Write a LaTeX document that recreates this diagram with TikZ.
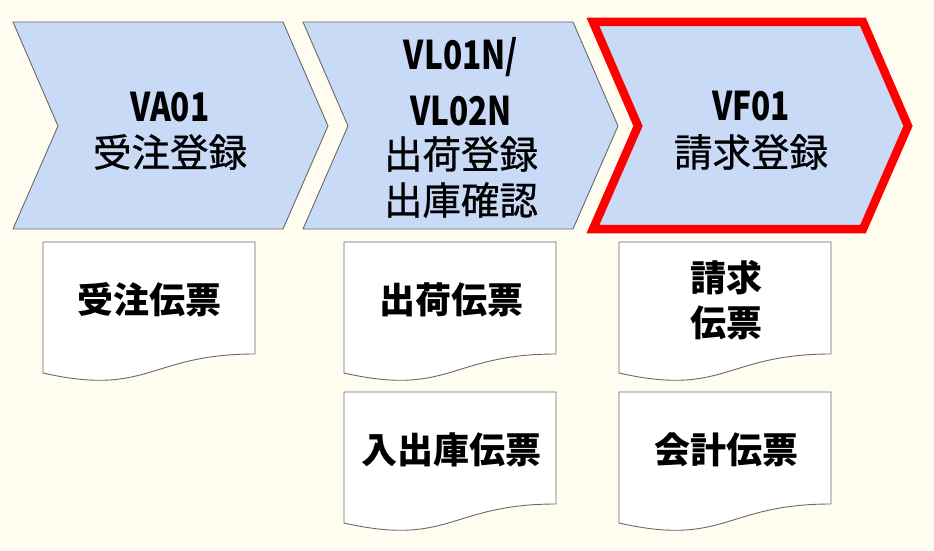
\documentclass[tikz,border=0pt]{standalone}
\usepackage{fontspec}
\setmainfont{Noto Sans CJK JP}
\newfontfamily\latfont[FakeStretch=0.8]{Noto Sans CJK JP}
\newfontfamily\jpchev[FakeBold=0.7]{Noto Sans CJK JP}
\definecolor{bgc}{RGB}{255,253,240}
\definecolor{chevfill}{RGB}{201,218,246}
\definecolor{edgegray}{RGB}{105,105,105}
\definecolor{hired}{RGB}{255,0,0}
\tikzset{
  chevbox/.style={fill=chevfill, draw=edgegray, line width=0.9pt, line join=miter},
  chevhi/.style={fill=chevfill, draw=hired, line width=8.5pt, line join=miter, miter limit=2},
  latline/.style={inner sep=0pt, font=\latfont\bfseries\fontsize{39.5}{40}\selectfont},
  jpline/.style={inner sep=0pt, font=\jpchev\fontsize{38.5}{40}\selectfont},
  docbox/.style={fill=white, draw=edgegray, line width=0.9pt},
  doctext/.style={inner sep=0pt, font=\bfseries\fontsize{36}{40}\selectfont}
}
\newcommand{\mydocshape}[2]{%
  \draw[docbox] (#1,#2) -- (#1+212,#2) -- (#1+212,#2+112)
    .. controls (#1+106,#2+112) and (#1+106,#2+155) .. (#1,#2+131) -- cycle;}
\begin{document}
\begin{tikzpicture}[x=1pt,y=-1pt]
\fill[bgc] (0,0) rectangle (934,551);
\path[use as bounding box] (0,0) rectangle (934,551);
% chevrons
\draw[chevbox] (13,22) -- (283,22) -- (328,126) -- (283,229) -- (13,229) -- (58,126) -- cycle;
\draw[chevbox] (303,22) -- (573,22) -- (618,126) -- (573,229) -- (303,229) -- (348,126) -- cycle;
\draw[chevhi] (593,22) -- (863,22) -- (908,126) -- (863,229) -- (593,229) -- (638,126) -- cycle;
% chevron texts
\node[latline] (c1a) at (170,107) {VA01};
\node[jpline]  (c1b) at (170,152) {受注登録};
\node[latline] (c2a) at (461,57) {VL01N/};
\node[latline] (c2b) at (461,111) {VL02N};
\node[jpline]  (c2c) at (461,154) {出荷登録};
\node[jpline]  (c2d) at (461,200) {出庫確認};
\node[latline] (c3a) at (751,106) {VF01};
\node[jpline]  (c3b) at (751,152) {請求登録};
% documents
\mydocshape{43}{242}
\mydocshape{344}{242}
\mydocshape{619}{242}
\mydocshape{344}{392}
\mydocshape{619}{392}
\node[doctext] (d1) at (149,300) {受注伝票};
\node[doctext] (d2) at (451,300) {出荷伝票};
\node[doctext] (d3a) at (726,278) {請求};
\node[doctext] (d3b) at (726,323) {伝票};
\node[doctext] (d4) at (451,450) {入出庫伝票};
\node[doctext] (d5) at (726,450) {会計伝票};
\end{tikzpicture}
\end{document}
